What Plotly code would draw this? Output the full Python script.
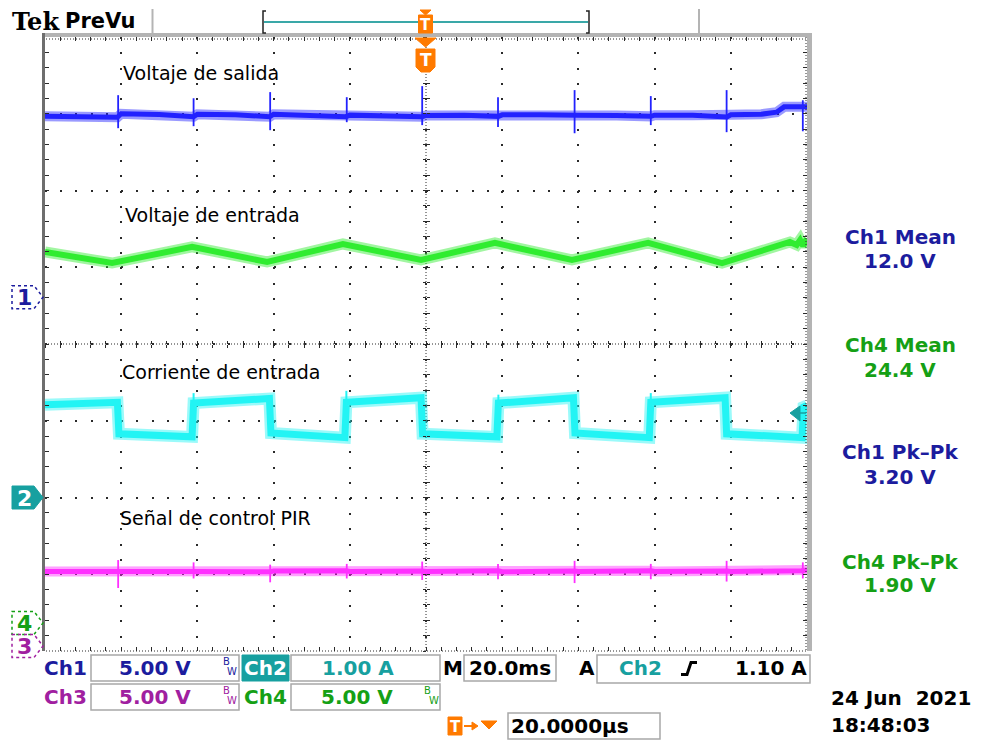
import plotly.graph_objects as go

# Time base: 20 ms/div, 10 div, trigger at centre (t = 0)
# Vertical: 8 div
# channel scales (units / div) and ground-marker offsets (div from centre)
ch1_scale, ch1_off = 5.0, 0.61     # V/div
ch2_scale, ch2_off = 1.0, -2.0     # A/div
ch3_scale, ch3_off = 5.0, -3.935   # V/div
ch4_scale, ch4_off = 5.0, -3.635   # V/div

# Ch1 - Voltaje de salida (V)
ch1_t = [-100, -90, -81, -80, -70, -61, -60, -50, -41, -40, -30, -21, -20, -10, -1, 0,
         10, 19, 20, 30, 39, 40, 50, 59, 60, 70, 79, 80, 88, 92, 94, 98.6, 100]
ch1_v = [11.79, 11.76, 11.72, 11.95, 11.90, 11.76, 11.92, 11.88, 11.76, 11.92, 11.86, 11.76,
         11.86, 11.82, 11.76, 11.84, 11.86, 11.78, 11.88, 11.88, 11.80, 11.86, 11.84, 11.78,
         11.86, 11.86, 11.74, 11.88, 11.92, 12.05, 12.40, 12.46, 12.40]
ch1_spk_t = [-80.8, -61.0, -40.9, -20.8, -1.0, 18.9, 39.0, 59.0, 78.9, 98.9]
ch1_spk_hi = [13.16, 12.96, 13.36, 13.03, 13.75, 13.03, 13.49, 13.10, 13.49, 12.83]
ch1_spk_lo = [11.01, 11.14, 10.88, 11.40, 11.21, 11.08, 10.68, 11.21, 10.75, 10.81]

# Ch4 - Voltaje de entrada (V)
ch4_t = [-100, -82.4, -61.4, -41.7, -21.8, -1.3, 18.1, 38.3, 58.3, 77.7, 95.5, 97.3, 98.2, 99.0, 100]
ch4_v = [24.17, 23.45, 24.50, 23.52, 24.69, 23.65, 24.76, 23.65, 24.76, 23.45, 24.82, 24.63,
         24.95, 24.56, 25.05]

# Ch2 - Corriente de entrada (A)
ch2_t = [-100, -81.0, -80.6, -61.4, -61.0, -41.1, -40.7, -21.3, -20.9, -1.3, -0.9, 18.6, 19.0,
         38.7, 39.1, 58.6, 59.0, 78.5, 78.9, 98.7, 99.1, 100]
ch2_v = [1.21, 1.24, 0.83, 0.79, 1.23, 1.29, 0.84, 0.78, 1.24, 1.30, 0.83, 0.79, 1.23, 1.30,
         0.84, 0.78, 1.24, 1.30, 0.83, 0.78, 1.18, 1.20]
ch2_spk_t = [-61.0, -20.9, 19.0, 59.0]
ch2_spk_hi = [1.36, 1.39, 1.34, 1.36]
ch2_spk_lo = [1.18, 1.18, 1.18, 1.18]

# Ch3 - Señal de control PIR (V)
ch3_t = [-100, -81, -80, -61, -60, -41, -40, -21, -20, -1, 0, 19, 20, 39, 40, 59, 60, 79, 80, 98.5, 100]
ch3_v = [4.86, 4.88, 4.84, 4.90, 4.86, 4.84, 4.88, 4.90, 4.86, 4.88, 4.86, 4.90, 4.84, 4.88,
         4.86, 4.90, 4.86, 4.88, 4.86, 4.90, 4.95]
ch3_spk_t = [-80.8, -61.0, -40.9, -20.8, -1.0, 18.9, 39.0, 59.0, 78.9, 98.9]
ch3_spk_hi = [5.60, 5.45, 5.30, 5.35, 5.50, 5.35, 5.55, 5.35, 5.55, 5.45]
ch3_spk_lo = [3.78, 4.40, 4.15, 4.40, 4.30, 4.35, 4.10, 4.35, 4.20, 4.40]

labels = ["Voltaje de salida", "Voltaje de entrada", "Corriente de entrada", "Señal de control PIR"]
meas_names = ["Ch1 Mean", "Ch4 Mean", "Ch1 Pk\u2013Pk", "Ch4 Pk\u2013Pk"]
meas_vals = ["12.0 V", "24.4 V", "3.20 V", "1.90 V"]

# ---------------- styling ----------------
FONT = "DejaVu Sans"
C1_TR, C2_TR, C3_TR, C4_TR = "#2222ff", "#22f4f4", "#ff30ff", "#30ec30"
C1_TX, C2_TX, C3_TX, C4_TX = "#1c1c9e", "#17a0a0", "#a020a0", "#15a015"
ORANGE = "#ff7a00"
GRID = "#2a2a2a"

W, H = 987, 740
PL, PR, PT, PB = 45, 807, 37, 651   # plot area in pixels


def PX(x):
    return (x - PL) / (PR - PL)


def PY(y):
    return (PB - y) / (PB - PT)


def to_div(vals, scale, off):
    return [None if v is None else off + v / scale for v in vals]


def spikes(ts, hi, lo):
    xs, ys = [], []
    for t, h, l in zip(ts, hi, lo):
        xs += [t, t, None]
        ys += [h, l, None]
    return xs, ys


fig = go.Figure()


def band(t, v, scale, off, color, width):
    yd = to_div(v, scale, off)
    fig.add_trace(go.Scatter(x=t, y=yd, mode="lines", opacity=0.45,
                             line=dict(color=color, width=width + 4), hoverinfo="skip",
                             showlegend=False))
    fig.add_trace(go.Scatter(x=t, y=yd, mode="lines",
                             line=dict(color=color, width=width - 1), hoverinfo="skip",
                             showlegend=False))


def spk(ts, hi, lo, scale, off, color, width=1.8):
    xs, ys = spikes(ts, hi, lo)
    fig.add_trace(go.Scatter(x=xs, y=to_div(ys, scale, off), mode="lines",
                             line=dict(color=color, width=width), hoverinfo="skip",
                             showlegend=False, connectgaps=False))


band(ch1_t, ch1_v, ch1_scale, ch1_off, C1_TR, 6)
spk(ch1_spk_t, ch1_spk_hi, ch1_spk_lo, ch1_scale, ch1_off, C1_TR)
band(ch4_t, ch4_v, ch4_scale, ch4_off, C4_TR, 7)
band(ch2_t, ch2_v, ch2_scale, ch2_off, C2_TR, 8)
spk(ch2_spk_t, ch2_spk_hi, ch2_spk_lo, ch2_scale, ch2_off, C2_TR, 2)
band(ch3_t, ch3_v, ch3_scale, ch3_off, C3_TR, 6)
spk(ch3_spk_t, ch3_spk_hi, ch3_spk_lo, ch3_scale, ch3_off, C3_TR)

# dummy traces so the centre-tick axes are drawn
for xa, ya in [("x2", "y"), ("x3", "y"), ("x", "y2"), ("x", "y3")]:
    fig.add_trace(go.Scatter(x=[], y=[], xaxis=xa, yaxis=ya, showlegend=False, hoverinfo="skip"))

shapes = []
ann = []


def text(s, x, y, size=21, color="black", xanchor="left", family=FONT, bold=False):
    if bold:
        s = f"<b>{s}</b>"
    ann.append(dict(text=s, x=PX(x), y=PY(y), xref="paper", yref="paper", showarrow=False,
                    xanchor=xanchor, yanchor="middle", font=dict(family=family, size=size, color=color)))


def rect(x0, y0, x1, y1, line="#a8a8a8", fill=None, width=1.5):
    shapes.append(dict(type="rect", xref="paper", yref="paper", x0=PX(x0), x1=PX(x1), y0=PY(y0), y1=PY(y1),
                       line=dict(color=line, width=width), fillcolor=fill, layer="above"))


def pline(x0, y0, x1, y1, color, width=1, dash="solid"):
    shapes.append(dict(type="line", xref="paper", yref="paper", x0=PX(x0), x1=PX(x1), y0=PY(y0), y1=PY(y1),
                       line=dict(color=color, width=width, dash=dash), layer="above"))


def ppath(pts, color, fill=None, width=1, dash="solid", close=True):
    d = "M " + " L ".join(f"{PX(x)},{PY(y)}" for x, y in pts) + (" Z" if close else "")
    shapes.append(dict(type="path", xref="paper", yref="paper", path=d, fillcolor=fill,
                       line=dict(color=color, width=width, dash=dash), layer="above"))


# centre crosshair (dense dots)
shapes.append(dict(type="line", xref="x", yref="y", x0=-100, x1=100, y0=0, y1=0,
                   line=dict(color=GRID, width=1, dash="1px,2px"), layer="below"))
shapes.append(dict(type="line", xref="x", yref="y", x0=0, x1=0, y0=-4, y1=4,
                   line=dict(color=GRID, width=1, dash="1px,2px"), layer="below"))

# frame
pline(PL + 1, PB, PR, PB, GRID, 1, "1px,2px")
pline(PL + 1, PT + 2, PR, PT + 2, GRID, 1, "1px,2px")
pline(PR - 1, PT, PR - 1, PB, GRID, 1, "1px,2px")
rect(42, 33, 812, 37, line="#b4b4b4", fill="#b4b4b4", width=0)
rect(807, 33, 812, 651, line="#b4b4b4", fill="#b4b4b4", width=0)
rect(42, 33, 45, 651, line="#6e6e6e", fill="#6e6e6e", width=0)

# top bar
pline(152.5, 9, 152.5, 34, "#b4b4b4", 2)
pline(699, 9, 699, 34, "#b4b4b4", 2)
pline(264, 22, 588, 22, "#3aa8a8", 2)
ppath([(266, 11), (263, 11), (263, 33), (266, 33)], "#222222", None, 1.5, close=False)
ppath([(586, 11), (589, 11), (589, 33), (586, 33)], "#222222", None, 1.5, close=False)
# trigger position markers (orange T)
ppath([(420, 10), (431, 10), (425.5, 15)], ORANGE, ORANGE, 1)
rect(418.5, 15, 432.5, 33, line=ORANGE, fill=ORANGE, width=1)
text("<b>T</b>", 425.5, 24.5, 15, "white", "center")
ppath([(415, 38), (436, 38), (425.5, 47)], ORANGE, ORANGE, 1)
ppath([(416, 49), (435, 49), (435, 67), (430, 72), (421, 72), (416, 67)], ORANGE, ORANGE, 1)
text("<b>T</b>", 425.5, 60, 17, "white", "center")

# trigger level arrow (right side)
ppath([(790, 413), (800, 406), (800, 421)], C2_TX, C2_TX, 1)
pline(799, 413, 806, 413, C2_TX, 1.5)


# channel ground markers (left)
def chmark(num, off, color, filled):
    yc = 344 - off * 76.75
    h = 11.5
    pts = [(12, yc - h), (34, yc - h), (43, yc), (34, yc + h), (12, yc + h)]
    if filled:
        ppath(pts, color, color, 1)
        text(num, 24, yc + 0.5, 22, "white", "center", bold=True)
    else:
        ppath(pts, color, None, 1.5, "dot")
        text(num, 24, yc + 0.5, 22, color, "center", bold=True)


chmark("1", ch1_off, C1_TX, False)
chmark("2", ch2_off, C2_TX, True)
chmark("4", ch4_off, C4_TX, False)
chmark("3", ch3_off, C3_TX, False)

# in-graticule labels
for s, (x, y) in zip(labels, [(121, 73), (123, 215), (120, 372), (118, 518)]):
    text(s, x, y, 19, "black")

# measurements on the right
meas_cols = [C1_TX, C4_TX, C1_TX, C4_TX]
for name, val, col, (y1, y2) in zip(meas_names, meas_vals, meas_cols,
                                    [(237, 261), (345, 370), (452, 477), (562, 585)]):
    text(name, 900, y1, 20, col, "center", bold=True)
    text(val, 900, y2, 20, col, "center", bold=True)

# Tek PreVu
text("Tek", 10, 22, 24, "black", "left", "DejaVu Serif", bold=True)
text("PreVu", 63, 21, 21, "black", "left", bold=True)

# bottom readout boxes
rect(91, 655, 239, 681)
rect(91, 684, 239, 710)
rect(242, 655, 289, 681, line=C2_TX, fill=C2_TX, width=1)
rect(291, 655, 440, 681)
rect(291, 684, 440, 710)
rect(464, 655, 556, 681)
rect(597, 655, 810, 683)
rect(508, 713, 660, 739)

FS = 20
text("Ch1", 42, 668, FS, C1_TX, bold=True)
text("5.00 V", 155, 668, FS, C1_TX, "center", bold=True)
text("Ch2", 265.5, 668, FS, "white", "center", bold=True)
text("1.00 A", 358, 668, FS, C2_TX, "center", bold=True)
text("M", 452.5, 668, FS, "black", "center", bold=True)
text("20.0ms", 510, 668, FS, "black", "center", bold=True)
text("A", 586.5, 668, FS, "black", "center", bold=True)
text("Ch2", 640, 668, FS, C2_TX, "center", bold=True)
text("1.10 A", 809, 668, FS, "black", "right", bold=True)
ppath([(681, 674.5), (687, 674.5), (691, 662.5), (697, 662.5)], "black", None, 3, close=False)

text("Ch3", 42, 697, FS, C3_TX, bold=True)
text("5.00 V", 155, 697, FS, C3_TX, "center", bold=True)
text("Ch4", 265.5, 697, FS, C4_TX, "center", bold=True)
text("5.00 V", 357, 697, FS, C4_TX, "center", bold=True)

for bx, by, col in [(226, 661, C1_TX), (226, 690, C3_TX), (428, 690, C4_TX)]:
    text("B", bx, by, 10, col, "center")
    text("W", bx + 6, by + 10, 10, col, "center")

# T -> v marker
rect(448, 717, 462, 735, line=ORANGE, fill=ORANGE, width=1)
text("<b>T</b>", 455, 726.5, 15, "white", "center")
pline(464, 726, 476, 726, ORANGE, 2)
ppath([(472, 722), (478, 726), (472, 730)], ORANGE, ORANGE, 1)
ppath([(481, 721), (497, 721), (489, 729)], ORANGE, ORANGE, 1)
text("20.0000\u00b5s", 509, 726, FS, "black", "left", bold=True)

text("24 Jun  2021", 829, 698, FS, "black", "left", bold=True)
text("18:48:03", 829, 725, FS, "black", "left", bold=True)

axis_common = dict(showticklabels=False, zeroline=False, showline=False)
fig.update_layout(
    width=W, height=H,
    margin=dict(l=PL, r=W - PR, t=PT, b=H - PB, pad=0),
    paper_bgcolor="white", plot_bgcolor="white",
    showlegend=False,
    xaxis=dict(range=[-100, 100], tick0=-100, dtick=20, showgrid=True, gridcolor=GRID, gridwidth=2,
               griddash="2px,13.35px", ticks="inside", ticklen=4, tickcolor=GRID, mirror="ticks",
               minor=dict(dtick=4, tick0=-100, ticks="inside", ticklen=4, tickcolor=GRID, showgrid=False),
               **axis_common),
    yaxis=dict(range=[-4, 4], tick0=-4, dtick=1, showgrid=True, gridcolor=GRID, gridwidth=2,
               griddash="2px,13.24px", ticks="inside", ticklen=4, tickcolor=GRID, mirror="ticks",
               minor=dict(dtick=0.2, tick0=-4, ticks="inside", ticklen=4, tickcolor=GRID, showgrid=False),
               **axis_common),
    xaxis2=dict(overlaying="x", anchor="free", position=0.5, range=[-100, 100], tick0=-100, dtick=4,
                ticks="inside", ticklen=3, tickcolor=GRID, showgrid=False, **axis_common),
    xaxis3=dict(overlaying="x", anchor="free", position=0.5, range=[-100, 100], tick0=-100, dtick=4,
                ticks="outside", ticklen=3, tickcolor=GRID, showgrid=False, **axis_common),
    yaxis2=dict(overlaying="y", anchor="free", position=0.5, range=[-4, 4], tick0=-4, dtick=0.2,
                ticks="inside", ticklen=3, tickcolor=GRID, showgrid=False, **axis_common),
    yaxis3=dict(overlaying="y", anchor="free", position=0.5, range=[-4, 4], tick0=-4, dtick=0.2,
                ticks="outside", ticklen=3, tickcolor=GRID, showgrid=False, **axis_common),
    shapes=shapes,
    annotations=ann,
)

fig.write_html("out.html")
